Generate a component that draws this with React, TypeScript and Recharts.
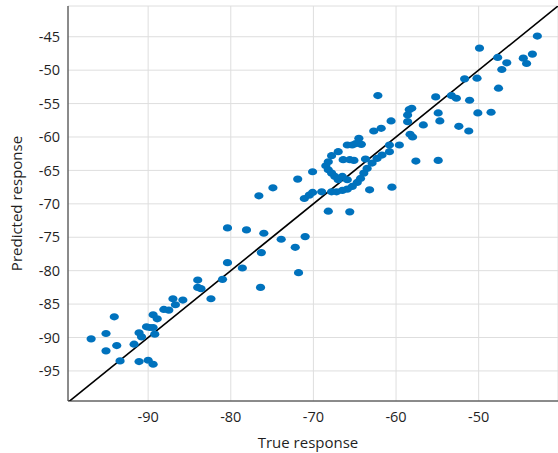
import React from "react";
import {
  ScatterChart,
  Scatter,
  XAxis,
  YAxis,
  CartesianGrid,
  ReferenceLine,
  Label,
} from "recharts";

// true vs predicted response
const trueResponse = [
  -96.9, -95.1, -94.1, -95.1, -93.8, -93.4, -91.7, -91.1, -90.8, -91.1,
  -90.2, -89.8, -90.0, -89.4, -89.4, -89.2, -89.4, -88.9, -88.1, -87.5,
  -87.0, -86.7, -85.8, -84.0, -84.0, -83.6, -82.4, -81.0, -80.4, -80.4,
  -78.1, -78.6, -76.0, -76.3, -76.4, -73.9, -72.2, -71.0, -71.8, -76.6,
  -74.9, -71.9, -70.1, -71.1, -70.5, -70.1, -69.0, -68.2, -65.6, -63.2,
  -60.5, -62.2, -57.6, -54.9, -49.9, -47.7, -46.6, -47.2, -44.6, -44.2,
  -43.5, -42.9, -51.7, -50.2, -47.6, -55.2, -53.3, -52.7, -51.1, -50.1,
  -48.5, -54.9, -54.7, -52.4, -51.2, -56.7, -58.4, -58.1, -58.6, -58.6,
  -58.3, -58.0, -59.6, -60.6, -61.8, -62.7, -64.5, -64.2, -65.9, -65.3,
  -64.9, -67.0, -67.8, -68.2, -68.5, -68.2, -67.8, -67.4, -67.0, -66.4,
  -65.6, -65.1, -63.7, -60.8, -60.8, -61.7, -62.3, -62.9, -63.5, -63.9,
  -64.3, -64.7, -65.3, -65.9, -66.5, -67.2, -67.8, -65.9, -66.5,
];

const predictedResponse = [
  -90.2, -89.4, -86.9, -92.0, -91.2, -93.5, -91.0, -89.3, -89.9, -93.6,
  -88.4, -88.5, -93.4, -94.0, -88.5, -89.5, -86.6, -87.2, -85.8, -85.9,
  -84.2, -85.1, -84.4, -81.4, -82.5, -82.7, -84.2, -81.3, -78.8, -73.6,
  -73.9, -79.6, -74.4, -77.3, -82.5, -75.3, -76.5, -74.9, -80.3, -68.8,
  -67.6, -66.3, -65.2, -69.2, -68.7, -68.3, -68.2, -71.1, -71.2, -67.9,
  -67.5, -53.8, -63.6, -63.5, -46.7, -48.1, -48.9, -49.9, -48.2, -49.0,
  -47.6, -44.9, -51.3, -51.2, -52.7, -54.0, -53.8, -54.2, -54.5, -56.4,
  -56.3, -56.4, -57.6, -58.4, -59.1, -58.2, -55.9, -55.7, -56.7, -57.7,
  -59.6, -60.0, -61.2, -57.6, -58.7, -59.1, -60.2, -61.1, -61.2, -61.2,
  -61.0, -62.2, -62.8, -63.7, -64.3, -64.9, -65.4, -65.9, -66.4, -63.4,
  -63.4, -63.5, -63.3, -62.2, -61.2, -62.7, -63.2, -63.9, -64.7, -65.4,
  -66.2, -66.8, -67.4, -67.8, -68.0, -68.2, -68.2, -66.4, -65.9,
];

const xTicks = [-90, -80, -70, -60, -50];
const yTicks = [-95, -90, -85, -80, -75, -70, -65, -60, -55, -50, -45];
const perfectFit = [-100, -40];

const points = trueResponse.map((x, i) => ({ x, y: predictedResponse[i] }));

const font = "'Open Sans', Lato, sans-serif";
const tickStyle = { fontSize: 14.5, fill: "#1f1f1f", fontFamily: font };
const titleStyle = { fontSize: 15, fill: "#1f1f1f", fontFamily: font };

function Dot(props: { cx?: number; cy?: number }) {
  const { cx, cy } = props;
  if (cx == null || cy == null) return null;
  return <ellipse cx={cx} cy={cy} rx={4.6} ry={3.6} fill="#0072BD" />;
}

export default function App() {
  return (
    <div style={{ position: "absolute", left: 0, top: 0, background: "#fff" }}>
      <ScatterChart
        width={558}
        height={453}
        margin={{ top: 6, right: 0, bottom: 0, left: 0 }}
      >
        <CartesianGrid stroke="#dedede" strokeWidth={1} />
        <XAxis
          type="number"
          dataKey="x"
          domain={[-99.7, -40.4]}
          allowDataOverflow
          ticks={xTicks}
          height={52}
          tick={tickStyle}
          tickLine={false}
          tickSize={6}
          tickMargin={5}
          axisLine={{ stroke: "#262626" }}
        >
          <Label
            value="True response"
            position="insideBottom"
            offset={5}
            dx={-5}
            style={titleStyle}
          />
        </XAxis>
        <YAxis
          type="number"
          dataKey="y"
          domain={[-99.5, -40.4]}
          allowDataOverflow
          ticks={yTicks}
          width={68}
          tick={tickStyle}
          tickLine={false}
          axisLine={{ stroke: "#262626" }}
        >
          <Label
            value="Predicted response"
            angle={-90}
            position="insideLeft"
            offset={17}
            style={{ ...titleStyle, textAnchor: "middle" }}
          />
        </YAxis>
        <Scatter data={points} shape={<Dot />} isAnimationActive={false} />
        <ReferenceLine
          segment={[
            { x: perfectFit[0], y: perfectFit[0] },
            { x: perfectFit[1], y: perfectFit[1] },
          ]}
          stroke="#000"
          strokeWidth={1.6}
          ifOverflow="hidden"
        />
      </ScatterChart>
    </div>
  );
}
